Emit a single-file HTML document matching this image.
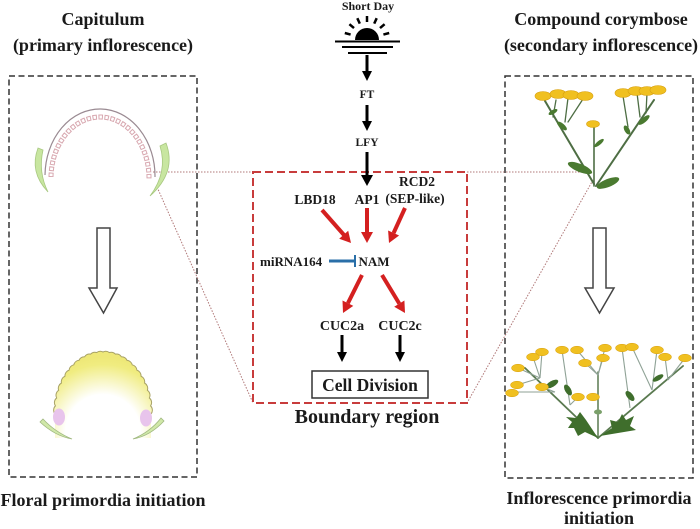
<!DOCTYPE html>
<html><head><meta charset="utf-8"><style>
html,body{margin:0;padding:0;background:#fff;}
svg{display:block;}
text{font-family:"Liberation Serif",serif;font-weight:bold;fill:#1a1a1a;}
</style></head><body>
<svg width="700" height="529" viewBox="0 0 700 529" xmlns="http://www.w3.org/2000/svg">
<defs>
<radialGradient id="dome" cx="103" cy="432" r="75" gradientUnits="userSpaceOnUse">
<stop offset="0" stop-color="#ffffff"/>
<stop offset="0.5" stop-color="#ffffff"/>
<stop offset="0.9" stop-color="#f0ec80"/>
<stop offset="1" stop-color="#eee878"/>
</radialGradient>
</defs>

<!-- Titles -->
<text x="103" y="25" font-size="18" text-anchor="middle">Capitulum</text>
<text x="103" y="51" font-size="18" text-anchor="middle">(primary inflorescence)</text>
<text x="601" y="25" font-size="18" text-anchor="middle">Compound corymbose</text>
<text x="601" y="51" font-size="18" text-anchor="middle">(secondary inflorescence)</text>
<text x="103" y="506" font-size="18" text-anchor="middle">Floral primordia initiation</text>
<text x="599" y="504" font-size="18" text-anchor="middle">Inflorescence primordia</text>
<text x="599" y="524" font-size="18" text-anchor="middle">initiation</text>

<!-- Dashed boxes -->
<rect x="9" y="76" width="188" height="401" fill="none" stroke="#333" stroke-width="1.5" stroke-dasharray="6 3.5"/>
<rect x="505" y="76" width="188" height="402" fill="none" stroke="#333" stroke-width="1.5" stroke-dasharray="6 3.5"/>

<!-- Dotted connectors -->
<g stroke="#b07878" stroke-width="1" stroke-dasharray="1.5 1.5" fill="none">
<line x1="153" y1="172" x2="253" y2="172"/>
<line x1="157" y1="187" x2="253" y2="403"/>
<line x1="467" y1="172" x2="593" y2="172"/>
<line x1="593" y1="180" x2="467" y2="403"/>
</g>

<!-- Red dashed box -->
<rect x="253" y="172" width="214" height="231" fill="none" stroke="#c83c3c" stroke-width="2" stroke-dasharray="8 4"/>

<!-- Sun -->
<text x="368" y="10" font-size="12" text-anchor="middle">Short Day</text>
<path d="M355,40 A12,12 0 0 1 379,40 Z" fill="#000"/>
<g stroke="#000" stroke-width="2.5">
<line x1="350.6" y1="34.6" x2="344.8" y2="33"/>
<line x1="354" y1="28.1" x2="349.4" y2="24.2"/>
<line x1="359.8" y1="23.6" x2="357.3" y2="18.2"/>
<line x1="367" y1="22" x2="367" y2="16"/>
<line x1="374.2" y1="23.6" x2="376.7" y2="18.2"/>
<line x1="380" y1="28.1" x2="384.6" y2="24.2"/>
<line x1="383.4" y1="34.6" x2="389.2" y2="33"/>
</g>
<g stroke="#000" stroke-width="2">
<line x1="335" y1="41.5" x2="400" y2="41.5"/>
<line x1="342" y1="47" x2="393" y2="47"/>
<line x1="348" y1="53" x2="387" y2="53"/>
</g>

<!-- Black arrows main chain -->
<g stroke="#000" stroke-width="3">
<line x1="367" y1="55" x2="367" y2="72"/>
<line x1="367" y1="105" x2="367" y2="122"/>
<line x1="367" y1="152" x2="367" y2="176"/>
<line x1="342" y1="335" x2="342" y2="353"/>
<line x1="400" y1="335" x2="400" y2="353"/>
</g>
<g fill="#000">
<polygon points="362,71 372,71 367,81"/>
<polygon points="362,121 372,121 367,131"/>
<polygon points="361,175 373,175 367,186"/>
<polygon points="337,352 347,352 342,362"/>
<polygon points="395,352 405,352 400,362"/>
</g>
<text x="367" y="98" font-size="11.5" text-anchor="middle">FT</text>
<text x="367" y="146" font-size="11.5" text-anchor="middle">LFY</text>

<!-- Gene labels -->
<text x="315" y="204" font-size="13.5" text-anchor="middle">LBD18</text>
<text x="367" y="204" font-size="13.5" text-anchor="middle">AP1</text>
<text x="417" y="186" font-size="13.5" text-anchor="middle">RCD2</text>
<text x="415" y="203" font-size="13.5" text-anchor="middle">(SEP-like)</text>
<text x="260" y="266" font-size="13">miRNA164</text>
<text x="374" y="266" font-size="13" text-anchor="middle">NAM</text>
<text x="342" y="330" font-size="14" text-anchor="middle">CUC2a</text>
<text x="400" y="330" font-size="14" text-anchor="middle">CUC2c</text>

<!-- Red arrows -->
<g stroke="#d42020" stroke-width="4">
<line x1="322" y1="210" x2="344" y2="235"/>
<line x1="367" y1="208" x2="367" y2="233"/>
<line x1="405" y1="208" x2="393.6" y2="233"/>
<line x1="362" y1="275" x2="347.9" y2="303.2"/>
<line x1="382" y1="275" x2="399.3" y2="303.6"/>
</g>
<g fill="#d42020">
<polygon points="351,243 339.2,238.7 348.2,230.8"/>
<polygon points="367,243 361,232 373,232"/>
<polygon points="389,243 388.1,230.5 399.1,235.5"/>
<polygon points="343,313 342.5,300.5 353.3,305.9"/>
<polygon points="405,313 394.2,306.7 404.4,300.5"/>
</g>

<!-- Inhibition -->
<line x1="329" y1="261" x2="355" y2="261" stroke="#2a6fa8" stroke-width="3"/>
<line x1="355" y1="255" x2="355" y2="267" stroke="#2a6fa8" stroke-width="2"/>

<!-- Cell division -->
<rect x="312" y="371" width="116" height="27" fill="#fff" stroke="#333" stroke-width="1.5"/>
<text x="370" y="391" font-size="17.5" text-anchor="middle">Cell Division</text>
<text x="367" y="423" font-size="20" text-anchor="middle">Boundary region</text>

<!-- Hollow arrows -->
<polygon points="97,228 110,228 110,288 117,288 103.5,313 89,288 97,288" fill="#fff" stroke="#444" stroke-width="1.5" stroke-linejoin="miter"/>
<polygon points="593,228 606,228 606,288 614,288 599.5,313 585,288 593,288" fill="#fff" stroke="#444" stroke-width="1.5"/>

<!-- Capitulum top -->
<path d="M51,177 A49,61 0 0 1 149,179" fill="none" stroke="#d8a8b0" stroke-width="5" stroke-dasharray="4.5 1.5"/>
<path d="M51,177 A49,61 0 0 1 149,179" fill="none" stroke="#fff" stroke-width="3" stroke-dasharray="2.5 3.5" stroke-dashoffset="-1"/>
<path d="M45,175 A55,67 0 0 1 155,177" fill="none" stroke="#9a8a92" stroke-width="1.2"/>
<path d="M38,148 Q29,172 48,192 Q38,172 43,150 Z" fill="#c8e6a0" stroke="#a8c880" stroke-width="0.8"/>
<path d="M166,143 Q177,172 150,196 Q168,172 160,146 Z" fill="#c8e6a0" stroke="#a8c880" stroke-width="0.8"/>

<!-- Capitulum bottom -->
<path d="M55,414 A6,6 0 0 1 55.41,405.91 A6,6 0 0 1 56.64,397.95 A6,6 0 0 1 58.65,390.27 A6,6 0 0 1 61.43,383 A6,6 0 0 1 64.92,376.25 A6,6 0 0 1 69.06,370.16 A6,6 0 0 1 73.78,364.81 A6,6 0 0 1 79,360.31 A6,6 0 0 1 84.63,356.72 A6,6 0 0 1 90.58,354.11 A6,6 0 0 1 96.74,352.53 A6,6 0 0 1 103,352 A6,6 0 0 1 109.26,352.53 A6,6 0 0 1 115.42,354.11 A6,6 0 0 1 121.37,356.72 A6,6 0 0 1 127,360.31 A6,6 0 0 1 132.22,364.81 A6,6 0 0 1 136.94,370.16 A6,6 0 0 1 141.08,376.25 A6,6 0 0 1 144.57,383 A6,6 0 0 1 147.35,390.27 A6,6 0 0 1 149.36,397.95 A6,6 0 0 1 150.59,405.91 A6,6 0 0 1 151,414 L151,438 L55,438 Z" fill="url(#dome)"/>
<path d="M55,414 A6,6 0 0 1 55.41,405.91 A6,6 0 0 1 56.64,397.95 A6,6 0 0 1 58.65,390.27 A6,6 0 0 1 61.43,383 A6,6 0 0 1 64.92,376.25 A6,6 0 0 1 69.06,370.16 A6,6 0 0 1 73.78,364.81 A6,6 0 0 1 79,360.31 A6,6 0 0 1 84.63,356.72 A6,6 0 0 1 90.58,354.11 A6,6 0 0 1 96.74,352.53 A6,6 0 0 1 103,352 A6,6 0 0 1 109.26,352.53 A6,6 0 0 1 115.42,354.11 A6,6 0 0 1 121.37,356.72 A6,6 0 0 1 127,360.31 A6,6 0 0 1 132.22,364.81 A6,6 0 0 1 136.94,370.16 A6,6 0 0 1 141.08,376.25 A6,6 0 0 1 144.57,383 A6,6 0 0 1 147.35,390.27 A6,6 0 0 1 149.36,397.95 A6,6 0 0 1 150.59,405.91 A6,6 0 0 1 151,414" fill="none" stroke="#a8a266" stroke-width="1"/>
<ellipse cx="59" cy="417" rx="6" ry="8.5" fill="#e8c4ec"/>
<ellipse cx="146" cy="418" rx="6" ry="8.5" fill="#e8c4ec"/>
<path d="M40,422 Q55,436 72,439 Q55,432 43,419 Z" fill="#d0e8a8" stroke="#a0b880" stroke-width="0.8"/>
<path d="M164,421 Q150,436 133,439 Q150,432 161,418 Z" fill="#d0e8a8" stroke="#a0b880" stroke-width="0.8"/>

<!-- Top plant -->
<g stroke="#4e6e44" fill="none" stroke-linecap="round">
<line x1="594" y1="184" x2="545" y2="101" stroke-width="2"/>
<line x1="596" y1="186" x2="654" y2="100" stroke-width="2"/>
<line x1="594" y1="186" x2="594" y2="126" stroke-width="1.6"/>
<line x1="556" y1="100" x2="553" y2="117" stroke-width="1.3"/>
<line x1="568" y1="98" x2="565" y2="122" stroke-width="1.3"/>
<line x1="583" y1="99" x2="568" y2="122" stroke-width="1.3"/>
<line x1="623" y1="96" x2="628" y2="127" stroke-width="1.3"/>
<line x1="637" y1="93" x2="640" y2="117" stroke-width="1.3"/>
<line x1="647" y1="93" x2="646" y2="113" stroke-width="1.3"/>
</g>
<g fill="#4a7a30">
<ellipse cx="580" cy="168" rx="13" ry="4" transform="rotate(22 580 168)"/>
<ellipse cx="608" cy="183" rx="12" ry="4" transform="rotate(-22 608 183)"/>
<ellipse cx="562" cy="126" rx="6" ry="2.5" transform="rotate(40 562 126)"/>
<ellipse cx="553" cy="112" rx="5" ry="2" transform="rotate(-30 553 112)"/>
<ellipse cx="644" cy="120" rx="7" ry="2.5" transform="rotate(-40 644 120)"/>
<ellipse cx="627" cy="130" rx="5" ry="2.5" transform="rotate(60 627 130)"/>
<ellipse cx="599" cy="143" rx="6" ry="2" transform="rotate(-40 599 143)"/>
</g>
<g fill="#f0c020" stroke="#d8a010" stroke-width="0.6">
<ellipse cx="543" cy="96" rx="8" ry="4.5"/>
<ellipse cx="558" cy="94" rx="8" ry="4.5"/>
<ellipse cx="571" cy="95" rx="8" ry="4.5"/>
<ellipse cx="585" cy="96" rx="8" ry="4.5"/>
<ellipse cx="623" cy="93" rx="8" ry="4.5"/>
<ellipse cx="636" cy="91" rx="8" ry="4.5"/>
<ellipse cx="647" cy="91" rx="8" ry="4.5"/>
<ellipse cx="658" cy="90" rx="8" ry="4.5"/>
<ellipse cx="593" cy="124" rx="6.5" ry="3.5"/>
</g>

<!-- Bottom plant -->
<g stroke="#5a7a50" fill="none" stroke-linecap="round">
<line x1="598" y1="438" x2="525" y2="368" stroke-width="1.8"/>
<line x1="598" y1="438" x2="683" y2="366" stroke-width="1.8"/>
<line x1="598" y1="438" x2="598" y2="372" stroke-width="1.5"/>
</g>
<g stroke="#8fa296" stroke-width="1.1" fill="none">
<line x1="540" y1="378" x2="542" y2="352"/>
<line x1="540" y1="378" x2="533" y2="357"/>
<line x1="540" y1="378" x2="518" y2="368"/>
<line x1="540" y1="378" x2="517" y2="385"/>
<line x1="555" y1="392" x2="513" y2="392"/>
<line x1="555" y1="392" x2="542" y2="387"/>
<line x1="570" y1="405" x2="562" y2="350"/>
<line x1="570" y1="405" x2="578" y2="397"/>
<line x1="598" y1="375" x2="577" y2="350"/>
<line x1="598" y1="375" x2="585" y2="363"/>
<line x1="598" y1="375" x2="605" y2="348"/>
<line x1="598" y1="395" x2="593" y2="397"/>
<line x1="598" y1="375" x2="603" y2="358"/>
<line x1="630" y1="408" x2="622" y2="348"/>
<line x1="652" y1="390" x2="632" y2="347"/>
<line x1="652" y1="390" x2="657" y2="350"/>
<line x1="668" y1="380" x2="665" y2="357"/>
<line x1="668" y1="380" x2="685" y2="358"/>
</g>
<g fill="#3f6e2c">
<path d="M598,438 L585,432 L578,436 L574,428 L568,428 L572,422 L566,417 L576,418 L580,412 L586,420 Z"/>
<path d="M600,436 L612,428 L610,420 L618,422 L622,414 L626,420 L634,416 L630,426 L636,430 L624,432 Z"/>
<ellipse cx="552" cy="384" rx="7" ry="3" transform="rotate(-30 552 384)"/>
<ellipse cx="568" cy="390" rx="6" ry="3" transform="rotate(60 568 390)"/>
<ellipse cx="630" cy="396" rx="6" ry="3" transform="rotate(50 630 396)"/>
<ellipse cx="658" cy="378" rx="6" ry="2.5" transform="rotate(-30 658 378)"/>
<ellipse cx="598" cy="412" rx="4" ry="2.5" fill="#7aa06a"/>
</g>
<g fill="#f0c020" stroke="#d8a010" stroke-width="0.5">
<ellipse cx="542" cy="352" rx="6.5" ry="3.8"/>
<ellipse cx="533" cy="357" rx="6.5" ry="3.8"/>
<ellipse cx="518" cy="368" rx="6.5" ry="3.8"/>
<ellipse cx="517" cy="385" rx="6.5" ry="3.8"/>
<ellipse cx="512" cy="393" rx="6.5" ry="3.8"/>
<ellipse cx="562" cy="350" rx="6.5" ry="3.8"/>
<ellipse cx="577" cy="350" rx="6.5" ry="3.8"/>
<ellipse cx="585" cy="363" rx="6.5" ry="3.8"/>
<ellipse cx="605" cy="348" rx="6.5" ry="3.8"/>
<ellipse cx="603" cy="358" rx="6.5" ry="3.8"/>
<ellipse cx="622" cy="348" rx="6.5" ry="3.8"/>
<ellipse cx="632" cy="347" rx="6.5" ry="3.8"/>
<ellipse cx="657" cy="350" rx="6.5" ry="3.8"/>
<ellipse cx="665" cy="357" rx="6.5" ry="3.8"/>
<ellipse cx="685" cy="358" rx="6.5" ry="3.8"/>
<ellipse cx="542" cy="387" rx="6.5" ry="3.8"/>
<ellipse cx="578" cy="397" rx="6.5" ry="3.8"/>
<ellipse cx="593" cy="397" rx="6.5" ry="3.8"/>
</g>
</svg>
</body></html>
